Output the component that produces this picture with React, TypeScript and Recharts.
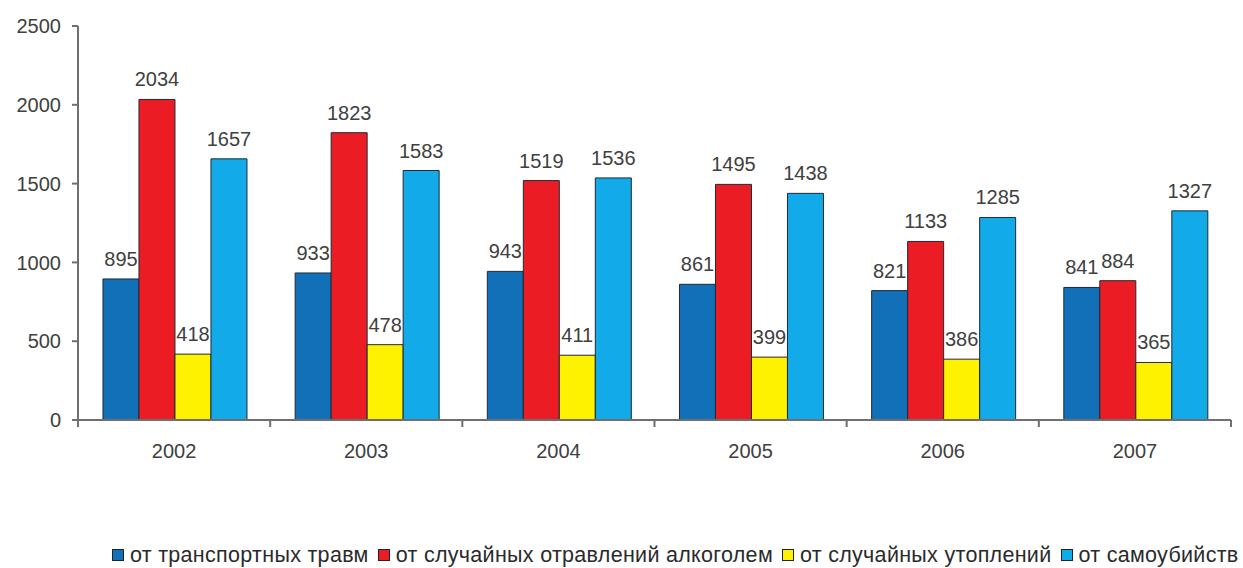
import { BarChart, Bar, XAxis, YAxis, LabelList, Legend } from "recharts";

const years = ["2002", "2003", "2004", "2005", "2006", "2007"];
const transport = [895, 933, 943, 861, 821, 841];
const alcohol = [2034, 1823, 1519, 1495, 1133, 884];
const drowning = [418, 478, 411, 399, 386, 365];
const suicide = [1657, 1583, 1536, 1438, 1285, 1327];
const yTicks = [0, 500, 1000, 1500, 2000, 2500];

const series = [
  { key: "transport", name: "от транспортных травм", color: "#1170b8" },
  { key: "alcohol", name: "от случайных отравлений алкоголем", color: "#ec1c24" },
  { key: "drowning", name: "от случайных утоплений", color: "#fff200" },
  { key: "suicide", name: "от самоубийств", color: "#12aae8" },
];

const data = years.map((year, i) => ({
  year,
  transport: transport[i],
  alcohol: alcohol[i],
  drowning: drowning[i],
  suicide: suicide[i],
}));

const font = "'Liberation Sans', Arial, sans-serif";
const textColor = "#404040";
const axisColor = "#6f6f6f";

function YearTick(props: any) {
  const { x, y, payload, index } = props;
  const half = payload?.offset ?? 96;
  return (
    <g>
      <line x1={x - half} x2={x - half} y1={y - 8} y2={y - 1} stroke={axisColor} strokeWidth={2} />
      {index === years.length - 1 && (
        <line x1={x + half} x2={x + half} y1={y - 8} y2={y - 1} stroke={axisColor} strokeWidth={2} />
      )}
      <text x={x} y={y + 23} textAnchor="middle" dominantBaseline="central" fill={textColor} fontSize={20} fontFamily={font}>
        {payload.value}
      </text>
    </g>
  );
}

function LegendContent() {
  return (
    <div style={{ display: "flex", alignItems: "center", height: 26, fontFamily: font, fontSize: 21.5, letterSpacing: 0.3, color: "#2a2a2a", paddingLeft: 112, whiteSpace: "nowrap" }}>
      {series.map((s) => (
        <div key={s.key} style={{ display: "flex", alignItems: "center", marginRight: 9 }}>
          <span style={{ width: 10, height: 10, background: s.color, border: "1px solid #222", marginRight: 6, display: "inline-block" }} />
          <span>{s.name}</span>
        </div>
      ))}
    </div>
  );
}

export default function App() {
  return (
    <div style={{ position: "fixed", top: 0, left: 0, width: 1243, height: 568, background: "#fff" }}>
      <BarChart
        width={1243}
        height={568}
        data={data}
        margin={{ top: 26, right: 12, left: 0, bottom: 82 }}
        barGap={0}
        barCategoryGap="13%"
      >
        <XAxis
          dataKey="year"
          axisLine={{ stroke: axisColor, strokeWidth: 2 }}
          tickLine={false}
          tick={<YearTick />}
          height={40}
          interval={0}
        />
        <YAxis
          domain={[0, 2500]}
          ticks={yTicks}
          width={78}
          axisLine={{ stroke: axisColor, strokeWidth: 2 }}
          tickLine={{ stroke: axisColor, strokeWidth: 2 }}
          tickSize={6}
          tickMargin={11}
          tick={{ fill: textColor, fontSize: 20, fontFamily: font }}
        />
        <Legend
          content={<LegendContent />}
          wrapperStyle={{ position: "absolute", top: 542, left: 0, width: 1243 }}
        />
        {series.map((s) => (
          <Bar key={s.key} dataKey={s.key} name={s.name} fill={s.color} stroke="#1f2a33" strokeWidth={1} isAnimationActive={false}>
            <LabelList dataKey={s.key} position="top" offset={13} fill={textColor} fontSize={20} fontFamily={font} />
          </Bar>
        ))}
      </BarChart>
    </div>
  );
}
